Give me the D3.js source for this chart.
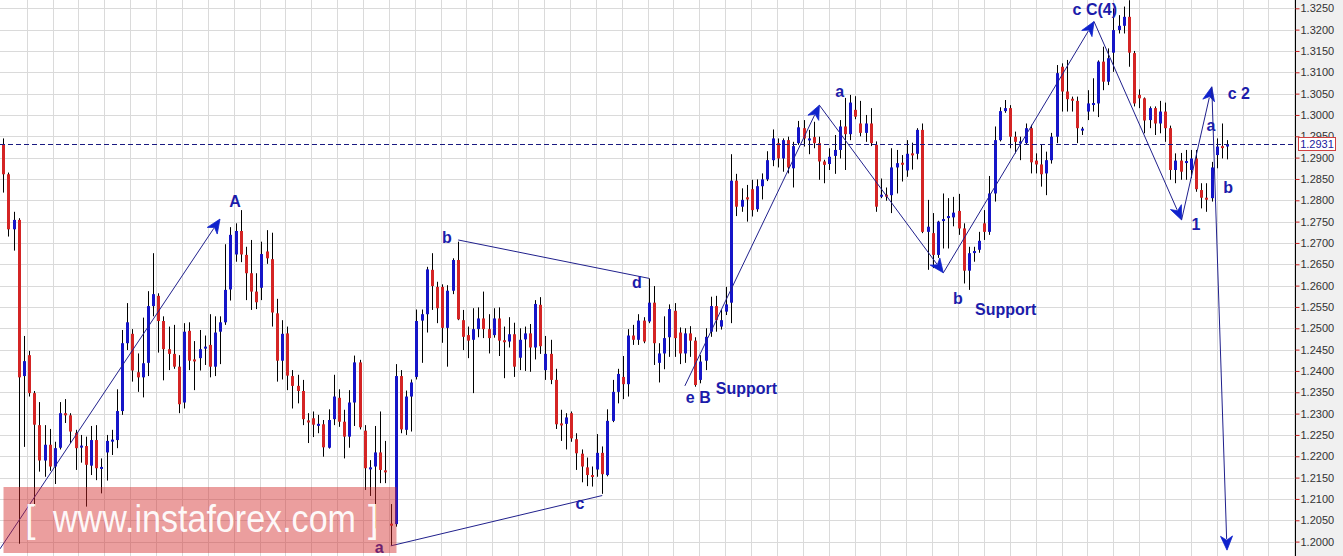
<!DOCTYPE html>
<html><head><meta charset="utf-8">
<script src="https://cdn.jsdelivr.net/npm/d3@7/dist/d3.min.js"></script>
<style>html,body{margin:0;padding:0;background:#fff;overflow:hidden}svg{display:block}</style>
</head><body>
<svg id="chart" width="1343" height="556"></svg>
<script>
// ---------------- DATA ----------------
const opens = [
1.2932,1.2861,1.2732,1.2754,1.2388,1.2437,1.2348,1.2273,1.2190,1.2227,
1.2176,1.2220,1.2301,1.2296,1.2255,1.2223,1.2224,1.2178,1.2238,1.2173,
1.2209,1.2237,1.2238,1.2306,1.2465,1.2487,1.2397,1.2385,1.2419,1.2552,
1.2576,1.2517,1.2451,1.2440,1.2410,1.2326,1.2494,1.2427,1.2430,1.2455,
1.2461,1.2410,1.2492,1.2514,1.2591,1.2673,1.2728,1.2672,1.2629,1.2586,
1.2595,1.2680,1.2662,1.2535,1.2424,1.2488,1.2388,1.2365,1.2353,1.2284,
1.2289,1.2274,1.2275,1.2220,1.2287,1.2337,1.2281,1.2246,1.2326,1.2420,
1.2260,1.2172,1.2176,1.2209,1.2167,1.2042,1.2041,1.2388,1.2262,1.2340,
1.2386,1.2518,1.2533,1.2637,1.2597,1.2597,1.2501,1.2588,1.2660,1.2519,
1.2484,1.2473,1.2498,1.2523,1.2498,1.2484,1.2523,1.2472,1.2469,1.2486,
1.2431,1.2474,1.2488,1.2455,1.2555,1.2402,1.2440,1.2379,1.2277,1.2276,
1.2301,1.2240,1.2206,1.2174,1.2156,1.2169,1.2208,1.2156,1.2283,1.2351,
1.2386,1.2369,1.2483,1.2473,1.2518,1.2516,1.2560,1.2419,1.2441,1.2479,
1.2541,1.2490,1.2441,1.2488,1.2471,1.2379,1.2424,1.2492,1.2552,1.2504,
1.2539,1.2560,1.2846,1.2785,1.2807,1.2826,1.2779,1.2833,1.2849,1.2894,
1.2934,1.2898,1.2941,1.2875,1.2934,1.2969,1.2943,1.2948,1.2934,1.2891,
1.2885,1.2904,1.2918,1.2973,1.2955,1.3012,1.2980,1.2958,1.2980,1.2930,
1.2811,1.2813,1.2812,1.2877,1.2888,1.2870,1.2910,1.2909,1.2965,1.2726,
1.2723,1.2672,1.2754,1.2761,1.2760,1.2775,1.2734,1.2635,1.2679,1.2684,
1.2746,1.2726,1.2816,1.2941,1.3009,1.3016,1.2949,1.2936,1.2934,1.2969,
1.2893,1.2884,1.2863,1.2894,1.2949,1.3113,1.3055,1.3038,1.3033,1.2966,
1.3008,1.3026,1.3027,1.3125,1.3078,1.3146,1.3199,1.3209,1.3230,1.3145,
1.3047,1.3039,1.2988,1.3016,1.2980,1.3008,1.2969,1.2871,1.2893,1.2890,
1.2871,1.2898,1.2824,1.2806,1.2805,1.2906,1.2927,1.2926];
const highs = [
1.2945,1.2865,1.2773,1.2758,1.2482,1.2447,1.2353,1.2327,1.2273,1.2264,
1.2234,1.2327,1.2334,1.2301,1.2262,1.2250,1.2246,1.2271,1.2273,1.2195,
1.2250,1.2262,1.2357,1.2496,1.2559,1.2498,1.2441,1.2525,1.2587,1.2676,
1.2582,1.2528,1.2504,1.2508,1.2437,1.2512,1.2514,1.2470,1.2496,1.2483,
1.2533,1.2528,1.2528,1.2697,1.2737,1.2746,1.2777,1.2691,1.2707,1.2629,
1.2703,1.2730,1.2724,1.2569,1.2519,1.2504,1.2402,1.2391,1.2379,1.2301,
1.2305,1.2297,1.2285,1.2310,1.2391,1.2357,1.2309,1.2355,1.2436,1.2426,
1.2273,1.2191,1.2271,1.2305,1.2236,1.2088,1.2416,1.2402,1.2354,1.2380,
1.2544,1.2544,1.2644,1.2676,1.2609,1.2603,1.2601,1.2664,1.2703,1.2543,
1.2504,1.2547,1.2549,1.2586,1.2533,1.2547,1.2549,1.2504,1.2526,1.2513,
1.2500,1.2504,1.2510,1.2566,1.2573,1.2482,1.2473,1.2405,1.2309,1.2301,
1.2305,1.2254,1.2216,1.2197,1.2176,1.2252,1.2223,1.2310,1.2379,1.2405,
1.2435,1.2498,1.2508,1.2533,1.2526,1.2617,1.2599,1.2465,1.2528,1.2556,
1.2559,1.2502,1.2500,1.2505,1.2479,1.2437,1.2500,1.2574,1.2576,1.2543,
1.2597,1.2908,1.2862,1.2828,1.2836,1.2848,1.2849,1.2863,1.2915,1.2966,
1.2945,1.2945,1.2949,1.2937,1.2986,1.2988,1.2965,1.2984,1.2949,1.2895,
1.2922,1.2953,1.2988,1.3040,1.3047,1.3044,1.3033,1.3000,1.3016,1.2938,
1.2851,1.2830,1.2922,1.2918,1.2906,1.2941,1.2935,1.2969,1.2980,1.2801,
1.2770,1.2752,1.2816,1.2805,1.2808,1.2815,1.2746,1.2691,1.2691,1.2726,
1.2777,1.2857,1.2973,1.3018,1.3035,1.3023,1.2961,1.2949,1.2980,1.2977,
1.2910,1.2930,1.2914,1.2958,1.3117,1.3121,1.3129,1.3043,1.3043,1.2972,
1.3058,1.3086,1.3128,1.3160,1.3156,1.3250,1.3234,1.3254,1.3269,1.3150,
1.3060,1.3041,1.3020,1.3020,1.3033,1.3029,1.2975,1.2910,1.2911,1.2918,
1.2918,1.2918,1.2840,1.2840,1.2890,1.2945,1.2980,1.2941];
const lows = [
1.2818,1.2715,1.2682,1.1995,1.2222,1.2340,1.2082,1.2164,1.2152,1.2166,
1.2135,1.2216,1.2278,1.2231,1.2168,1.2185,1.2082,1.2156,1.2144,1.2113,
1.2143,1.2203,1.2219,1.2297,1.2449,1.2375,1.2351,1.2338,1.2388,1.2528,
1.2443,1.2378,1.2402,1.2405,1.2301,1.2312,1.2402,1.2355,1.2401,1.2414,
1.2385,1.2388,1.2416,1.2508,1.2565,1.2656,1.2655,1.2566,1.2543,1.2545,
1.2566,1.2651,1.2504,1.2375,1.2380,1.2355,1.2312,1.2324,1.2273,1.2231,
1.2245,1.2254,1.2199,1.2218,1.2273,1.2269,1.2195,1.2220,1.2271,1.2263,
1.2121,1.2107,1.2031,1.2137,1.2137,1.1990,1.2035,1.2254,1.2250,1.2258,
1.2380,1.2419,1.2490,1.2543,1.2512,1.2466,1.2410,1.2580,1.2519,1.2449,
1.2430,1.2348,1.2479,1.2477,1.2441,1.2478,1.2435,1.2383,1.2455,1.2386,
1.2402,1.2400,1.2398,1.2427,1.2440,1.2379,1.2369,1.2264,1.2236,1.2216,
1.2234,1.2168,1.2139,1.2130,1.2129,1.2152,1.2112,1.2153,1.2280,1.2324,
1.2334,1.2340,1.2461,1.2461,1.2465,1.2512,1.2414,1.2373,1.2404,1.2433,
1.2433,1.2416,1.2419,1.2433,1.2363,1.2371,1.2402,1.2480,1.2492,1.2497,
1.2531,1.2512,1.2763,1.2773,1.2750,1.2762,1.2773,1.2802,1.2845,1.2880,
1.2877,1.2867,1.2863,1.2830,1.2930,1.2926,1.2908,1.2922,1.2848,1.2840,
1.2871,1.2862,1.2898,1.2871,1.2941,1.2990,1.2950,1.2937,1.2927,1.2773,
1.2805,1.2799,1.2770,1.2816,1.2844,1.2855,1.2872,1.2896,1.2723,1.2637,
1.2641,1.2665,1.2687,1.2687,1.2739,1.2719,1.2605,1.2590,1.2656,1.2677,
1.2707,1.2719,1.2797,1.2938,1.3005,1.2922,1.2910,1.2894,1.2932,1.2863,
1.2863,1.2832,1.2812,1.2886,1.2934,1.3008,1.3008,1.3008,1.2934,1.2953,
1.2988,1.3008,1.2995,1.3058,1.3070,1.3101,1.3191,1.3191,1.3113,1.3020,
1.3016,1.2957,1.2969,1.2953,1.2957,1.2937,1.2848,1.2840,1.2848,1.2848,
1.2852,1.2820,1.2781,1.2773,1.2797,1.2875,1.2898,1.2896];
const closes = [
1.2861,1.2732,1.2754,1.2385,1.2423,1.2348,1.2274,1.2190,1.2227,1.2176,
1.2219,1.2301,1.2296,1.2258,1.2219,1.2225,1.2180,1.2238,1.2172,1.2175,
1.2236,1.2239,1.2306,1.2465,1.2514,1.2401,1.2385,1.2418,1.2552,1.2580,
1.2517,1.2451,1.2440,1.2410,1.2322,1.2492,1.2424,1.2425,1.2451,1.2457,
1.2410,1.2490,1.2514,1.2590,1.2719,1.2728,1.2673,1.2629,1.2586,1.2561,
1.2674,1.2664,1.2537,1.2424,1.2487,1.2389,1.2365,1.2353,1.2287,1.2282,
1.2274,1.2276,1.2221,1.2285,1.2340,1.2281,1.2246,1.2326,1.2420,1.2268,
1.2172,1.2174,1.2209,1.2168,1.2165,1.2040,1.2388,1.2263,1.2340,1.2373,
1.2517,1.2533,1.2638,1.2599,1.2547,1.2501,1.2588,1.2660,1.2521,1.2480,
1.2471,1.2498,1.2523,1.2498,1.2477,1.2523,1.2471,1.2470,1.2486,1.2410,
1.2473,1.2488,1.2455,1.2557,1.2458,1.2440,1.2379,1.2275,1.2275,1.2291,
1.2242,1.2207,1.2176,1.2156,1.2154,1.2208,1.2158,1.2283,1.2351,1.2393,
1.2369,1.2483,1.2473,1.2518,1.2469,1.2560,1.2465,1.2441,1.2477,1.2545,
1.2477,1.2441,1.2488,1.2471,1.2367,1.2422,1.2480,1.2552,1.2519,1.2519,
1.2556,1.2846,1.2785,1.2801,1.2802,1.2777,1.2833,1.2849,1.2894,1.2945,
1.2898,1.2941,1.2877,1.2927,1.2971,1.2945,1.2945,1.2934,1.2891,1.2883,
1.2902,1.2918,1.2973,1.2955,1.3029,1.2996,1.2958,1.2980,1.2934,1.2785,
1.2813,1.2811,1.2877,1.2887,1.2886,1.2909,1.2908,1.2965,1.2726,1.2738,
1.2672,1.2750,1.2756,1.2763,1.2771,1.2734,1.2635,1.2676,1.2681,1.2705,
1.2726,1.2816,1.2941,1.3009,1.3016,1.2949,1.2937,1.2938,1.2969,1.2889,
1.2884,1.2861,1.2894,1.2949,1.3098,1.3055,1.3037,1.3036,1.2969,1.2968,
1.3027,1.3028,1.3125,1.3078,1.3133,1.3199,1.3209,1.3230,1.3146,1.3027,
1.3039,1.2987,1.3016,1.2980,1.3008,1.2969,1.2871,1.2893,1.2867,1.2892,
1.2898,1.2826,1.2806,1.2804,1.2877,1.2926,1.2925,1.2931];

const priceTicks = ["1.3250","1.3200","1.3150","1.3100","1.3050","1.3000","1.2950","1.2900",
"1.2850","1.2800","1.2750","1.2700","1.2650","1.2600","1.2550","1.2500","1.2450","1.2400",
"1.2350","1.2300","1.2250","1.2200","1.2150","1.2100","1.2050","1.2000"];
const lastPrice = 1.2931;

// wave annotation lines: [startIndex, startPrice, endIndex, endPrice, hasArrow]
const waveLines = [
  [-0.64, 1.1983, 41.97, 1.2756, true],
  [88.1, 1.2707, 125.06, 1.2617, false],
  [75.03, 1.1990, 116.0, 1.2108, false],
  [132.0, 1.2365, 158.05, 1.3023, true],
  [158.05, 1.3023, 182.06, 1.2630, true],
  [182.06, 1.2630, 211.25, 1.3219, true],
  [211.25, 1.3219, 228.2, 1.2754, true],
  [228.2, 1.2754, 234.05, 1.3066, true],
  [234.05, 1.3066, 237.0, 1.1980, true]
];
// wave labels: [text, index, price, anchor]
const waveLabels = [
  ["A", 44.9, 1.2784, "middle"],
  ["b", 85.9, 1.2700, "middle"],
  ["d", 122.7, 1.2594, "middle"],
  ["a", 72.8, 1.1974, "middle"],
  ["c", 111.7, 1.2076, "middle"],
  ["e B", 134.6, 1.2325, "middle"],
  ["Support", 138.0, 1.2345, "start"],
  ["a", 162.0, 1.3042, "middle"],
  ["b", 184.9, 1.2557, "middle"],
  ["Support", 188.2, 1.2531, "start"],
  ["c C(4)", 211.4, 1.3234, "middle"],
  ["1", 231.0, 1.2730, "middle"],
  ["a", 233.9, 1.2962, "middle"],
  ["c 2", 239.3, 1.3037, "middle"],
  ["b", 237.2, 1.2817, "middle"]
];

// ---------------- DRAW ----------------
const W = 1343, H = 556, plotRight = 1295;
const svg = d3.select("#chart");
const x = d3.scaleLinear().domain([0, 237]).range([3.3, 1227]);
const y = d3.scaleLinear().domain([1.2000, 1.3250]).range([541.6, 8.3]);

const candles = opens.map((o, i) => ({i, o, h: highs[i], l: lows[i], c: closes[i]}));

svg.append("defs").append("clipPath").attr("id", "plotclip")
  .append("rect").attr("x", 0).attr("y", 0).attr("width", plotRight).attr("height", H);

const plot = svg.append("g").attr("clip-path", "url(#plotclip)");

// grid
const gridColor = "#dadada";
const vLines = d3.range(26.7, plotRight, 25.87);
plot.append("g").selectAll("line").data(vLines).join("line")
  .attr("x1", d => Math.round(d) + 0.5).attr("x2", d => Math.round(d) + 0.5)
  .attr("y1", 0).attr("y2", H).attr("stroke", gridColor).attr("stroke-width", 1);
plot.append("g").selectAll("line").data(priceTicks).join("line")
  .attr("x1", 0).attr("x2", plotRight)
  .attr("y1", d => Math.round(y(+d)) + 0.5).attr("y2", d => Math.round(y(+d)) + 0.5)
  .attr("stroke", gridColor).attr("stroke-width", 1);

// candles
const cg = plot.append("g");
const px = d => Math.round(x(d.i));
cg.selectAll("line.wick").data(candles).join("line").attr("class", "wick")
  .attr("x1", d => px(d) + 0.5).attr("x2", d => px(d) + 0.5)
  .attr("y1", d => y(d.h)).attr("y2", d => y(d.l))
  .attr("stroke", "#000").attr("stroke-width", 1);
cg.selectAll("rect.body").data(candles).join("rect").attr("class", "body")
  .attr("x", d => px(d) - 1).attr("width", 3)
  .attr("y", d => Math.min(y(d.o), y(d.c)))
  .attr("height", d => Math.max(2, Math.abs(y(d.o) - y(d.c))))
  .attr("fill", d => d.c >= d.o ? "#1515c8" : "#d42424");

// last price dashed line
plot.append("line")
  .attr("x1", 0).attr("x2", plotRight)
  .attr("y1", Math.round(y(lastPrice)) + 0.5).attr("y2", Math.round(y(lastPrice)) + 0.5)
  .attr("stroke", "#1a1a80").attr("stroke-width", 1).attr("stroke-dasharray", "5,3");

// wave lines
const ag = plot.append("g");
waveLines.forEach(([i0, p0, i1, p1, arrow]) => {
  const x0 = x(i0), y0 = y(p0), x1 = x(i1), y1 = y(p1);
  const dx = x1 - x0, dy = y1 - y0, len = Math.hypot(dx, dy);
  const ux = dx / len, uy = dy / len;
  const aL = 14, aW = 6;
  const ex = arrow ? x1 - ux * (aL - 3) : x1, ey = arrow ? y1 - uy * (aL - 3) : y1;
  ag.append("line").attr("x1", x0).attr("y1", y0).attr("x2", ex).attr("y2", ey)
    .attr("stroke", "#20208c").attr("stroke-width", 1);
  if (arrow) {
    const bx = x1 - ux * aL, by = y1 - uy * aL;
    const nx = x1 - ux * (aL - 4), ny = y1 - uy * (aL - 4);
    const pts = [[x1, y1], [bx - uy * aW, by + ux * aW], [nx, ny], [bx + uy * aW, by - ux * aW]];
    ag.append("path").attr("d", "M" + pts.map(p => p.join(",")).join("L") + "Z")
      .attr("fill", "#0f22cc").attr("stroke", "#0f22cc").attr("stroke-width", 0.8)
      .attr("stroke-linejoin", "round");
  }
});

// labels
plot.append("g").selectAll("text").data(waveLabels).join("text")
  .attr("x", d => x(d[1])).attr("y", d => y(d[2]))
  .attr("text-anchor", d => d[3])
  .attr("font-family", "Liberation Sans, Arial, sans-serif")
  .attr("font-weight", "bold").attr("font-size", 16)
  .attr("fill", "#1c1caa").text(d => d[0]);

// watermark (single text element with positioned parts)
const wm = svg.append("g");
wm.append("rect").attr("x", 3.5).attr("y", 487).attr("width", 393).attr("height", 66)
  .attr("fill", "rgb(210,40,40)").attr("fill-opacity", 0.45);
const wmText = wm.append("text").attr("y", 532)
  .attr("font-family", "Liberation Sans, Arial, sans-serif")
  .attr("font-size", 38).attr("fill", "#fff").attr("fill-opacity", 0.95);
wmText.append("tspan").attr("x", 25).text("[");
wmText.append("tspan").attr("x", 53).attr("textLength", 303)
  .attr("lengthAdjust", "spacingAndGlyphs").text("www.instaforex.com");
wmText.append("tspan").attr("x", 368).text("]");

// right axis
svg.append("rect").attr("x", plotRight + 1).attr("y", 0).attr("width", W - plotRight - 1).attr("height", H)
  .attr("fill", "#f0f0f0");
const axis = d3.axisRight(y).tickValues(priceTicks.map(Number)).tickSize(4).tickPadding(1)
  .tickFormat(d3.format(".4f"));
const ag2 = svg.append("g").attr("transform", `translate(${plotRight + 0.5},0)`).call(axis);
ag2.select(".domain").attr("stroke", "#000").attr("d", `M0,0V${H}`);
ag2.selectAll(".tick line").attr("stroke", "#cc2020");
ag2.selectAll(".tick text").attr("font-family", "Liberation Sans, Arial, sans-serif")
  .attr("font-size", 11).attr("fill", "#333");

// last price box
const ly = y(lastPrice);
svg.append("rect").attr("x", 1298.5).attr("y", Math.round(ly) - 6.5).attr("width", 37).attr("height", 13)
  .attr("fill", "#fff").attr("stroke", "#d04040").attr("stroke-width", 1);
svg.append("text").attr("x", 1317).attr("y", Math.round(ly) + 4).attr("text-anchor", "middle")
  .attr("font-family", "Liberation Sans, Arial, sans-serif").attr("font-size", 11)
  .attr("fill", "#2020a0").text(d3.format(".4f")(lastPrice));
</script>
</body></html>
